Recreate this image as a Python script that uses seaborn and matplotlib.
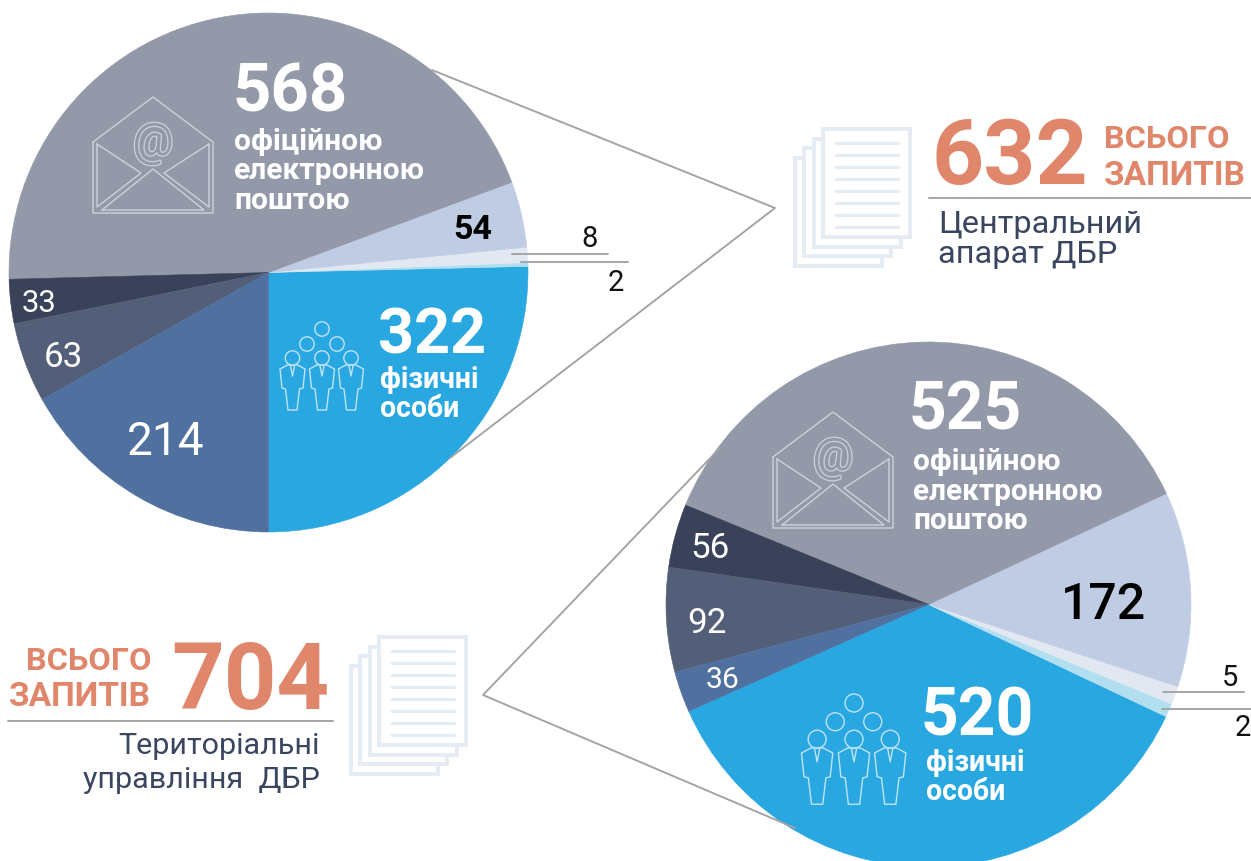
import matplotlib
matplotlib.use("Agg")
import matplotlib.pyplot as plt
from matplotlib.patches import Rectangle, Circle, Polygon
import matplotlib.patheffects as pe
import seaborn as sns

W, H = 1251, 861

# Центральний апарат, counter-clockwise from the bottom
# the values are the widths, small slices run a bit wider than they count
central_labels = ["322", "2", "8", "54", "568", "33", "63", "214"]
central_values = [322, 3, 12, 52, 568, 35, 63, 214]

# Територіальні управління; 2 and 5 are drawn wider in the picture than they count
terr_labels = ["520", "2", "5", "172", "525", "56", "92", "36"]
terr_values = [520, 12, 16, 172, 528, 56, 92, 36]

slice_colors = ["#29A7E1", "#B2DFF0", "#E2E8F1", "#BFCCE3", "#9399A9", "#3A4259", "#535F78", "#50719F"]

ORANGE = "#E0876B"
NAVY = "#3A4660"
GREY = "#A3A3A3"
PAPER = "#E6ECF4"

sns.set_theme(style="white", font="Roboto")
plt.rcParams["font.family"] = ["Roboto", "DejaVu Sans"]

fig = plt.figure(figsize=(W / 100, H / 100), dpi=100, facecolor="white")


def draw_pie(cx, cy, r, values, start):
    ax = fig.add_axes([(cx - r) / W, 1 - (cy + r) / H, 2 * r / W, 2 * r / H])
    wedges, _ = ax.pie(values, colors=sns.color_palette(slice_colors), startangle=start, counterclock=True,
                       radius=1, wedgeprops={"linewidth": 0.4, "clip_on": False})
    for w in wedges:
        w.set_edgecolor(w.get_facecolor())
    ax.set_xlim(-1, 1)
    ax.set_ylim(-1, 1)
    ax.axis("off")


draw_pie(268.5, 272.5, 259.5, central_values, -90)
draw_pie(928.5, 604.5, 262.5, terr_values, 204)

# overlay in pixel coordinates for texts and icons
ov = fig.add_axes([0, 0, 1, 1], facecolor="none")


def px(size):
    return size * 0.72


def seg(xs, ys, color=GREY, width=1.9):
    sns.lineplot(x=xs, y=ys, sort=False, estimator=None, color=color, linewidth=px(width), ax=ov, legend=False)


def txt(x, y, s, size, color="white", weight="normal", ha="left"):
    ov.text(x, y, s, fontsize=px(size), color=color, fontweight=weight, ha=ha, va="baseline")


def draw_docs(x, y):
    # x, y = top left of the front sheet
    for i in [3, 2, 1, 0]:
        ov.add_patch(Rectangle((x - 9.3 * i, y + 9.5 * i), 87, 108, facecolor="white", edgecolor=PAPER,
                               linewidth=px(4), zorder=2))
    for k in range(8):
        ov.plot([x + 13, x + 75], [y + 14 + 12 * k, y + 14 + 12 * k], color=PAPER, linewidth=px(3.2),
                solid_capstyle="round", zorder=3)


def draw_envelope(x, y, color="#CDD1D9", back="#9399A9"):
    lw = px(1.4)
    outline = [(0, 45), (60, 0), (120, 45), (120, 116), (0, 116), (0, 45)]
    ov.plot([x + a for a, b in outline], [y + b for a, b in outline], color=color, linewidth=lw)
    for shape in ([(4, 47), (48, 76), (4, 110), (4, 47)],
                  [(116, 47), (71, 76), (116, 110), (116, 47)],
                  [(9, 113), (60, 72), (111, 113), (9, 113)]):
        ov.plot([x + a for a, b in shape], [y + b for a, b in shape], color=color, linewidth=lw)
    ov.text(x + 60, y + 58, "@", fontsize=px(46), color=back, ha="center", va="baseline",
            path_effects=[pe.withStroke(linewidth=1.8, foreground=color)])


def draw_people(cx, top, s, color="#BFE3F6"):
    # cx = centre of the middle figure, top = centre of the top circle
    lw = px(1.4)
    for dx, dy in [(0, 0), (-15, 15), (15, 15)]:
        ov.add_patch(Circle((cx + dx * s, top + dy * s), 7.2 * s, fill=False, edgecolor=color, linewidth=lw))
    for dx in [-29.5, 0, 29]:
        hx = cx + dx * s
        hy = top + 29 * s
        ov.add_patch(Circle((hx, hy), 7.2 * s, fill=False, edgecolor=color, linewidth=lw))
        body = [(-5, 7), (-12.5, 11), (-10.5, 30), (-7, 31), (-4.5, 52), (4.5, 52), (7, 31), (10.5, 30), (12.5, 11), (5, 7)]
        ov.add_patch(Polygon([(hx + a * s, hy + b * s) for a, b in body], closed=True, fill=False,
                             edgecolor=color, linewidth=lw))
        tie = [(-2, 8), (0, 18), (2, 8)]
        ov.plot([hx + a * s for a, b in tie], [hy + b * s for a, b in tie], color=color, linewidth=lw)


# connectors
seg([432, 775, 450], [70, 208, 458])
seg([720, 483, 795], [448, 695, 828])

# small-slice leader lines
seg([512, 608], [254, 254])
seg([521, 628], [262, 262])
seg([1163, 1244], [692, 692])
seg([1162, 1251], [709, 709])

# rules below the headers
seg([929, 1251], [198, 198])
seg([8, 333], [721, 721])

draw_docs(823, 129)
draw_docs(379, 637)
draw_envelope(93, 97)
draw_envelope(773, 412)
draw_people(322, 329, 1.0)
draw_people(854, 703, 1.25)

# top pie
txt(232, 112, central_labels[4], 67, weight="bold")
txt(234, 150, "офіційною", 30, weight="bold")
txt(234, 179, "електронною", 30, weight="bold")
txt(234, 209, "поштою", 30, weight="bold")
txt(453, 239, central_labels[3], 34, color="black", weight="bold")
txt(590, 247, central_labels[2], 29, color="#111111", ha="center")
txt(616, 291, central_labels[1], 29, color="#111111", ha="center")
txt(22, 312, central_labels[5], 31)
txt(44, 367, central_labels[6], 35)
txt(127, 455, central_labels[7], 46)
txt(378, 353, central_labels[0], 63, weight="bold")
txt(380, 388, "фізичні", 28.5, weight="bold")
txt(380, 417, "особи", 28.5, weight="bold")

# bottom pie
txt(909, 429, terr_labels[4], 66, weight="bold")
txt(913, 470, "офіційною", 29.7, weight="bold")
txt(913, 500, "електронною", 29.7, weight="bold")
txt(913, 529, "поштою", 29.7, weight="bold")
txt(1061, 619, terr_labels[3], 50, color="black", weight="medium")
txt(690, 558, terr_labels[5], 35)
txt(687, 633, terr_labels[6], 35)
txt(706, 688, terr_labels[7], 30)
txt(1230, 686, terr_labels[2], 29, color="#111111", ha="center")
txt(1243, 736, terr_labels[1], 29, color="#111111", ha="center")
txt(921, 735, terr_labels[0], 66, weight="bold")
txt(926, 771, "фізичні", 28.5, weight="bold")
txt(926, 800, "особи", 28.5, weight="bold")

# headers
txt(932, 184, "632", 91, color=ORANGE, weight="bold")
txt(1104, 148, "ВСЬОГО", 32.5, color=ORANGE, weight="bold")
txt(1104, 185, "ЗАПИТІВ", 33.5, color=ORANGE, weight="bold")
txt(938, 233, "Центральний", 32.5, color=NAVY)
txt(938, 263, "апарат ДБР", 32.5, color=NAVY)

txt(171, 709, "704", 92, color=ORANGE, weight="bold")
txt(151, 670, "ВСЬОГО", 32.5, color=ORANGE, weight="bold", ha="right")
txt(151, 706, "ЗАПИТІВ", 33.5, color=ORANGE, weight="bold", ha="right")
txt(320, 754, "Територіальні", 30.5, color=NAVY, ha="right")
txt(320, 788, "управління  ДБР", 30.5, color=NAVY, ha="right")

ov.set_xlim(0, W)
ov.set_ylim(H, 0)
ov.axis("off")

fig.savefig("out.png", dpi=100, facecolor="white")
